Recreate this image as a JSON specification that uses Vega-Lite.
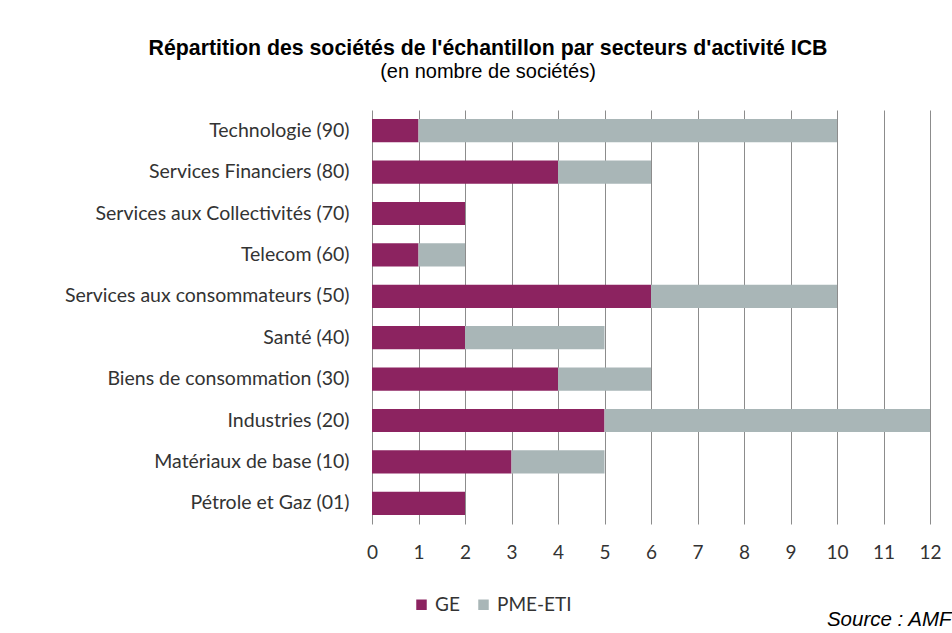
{
  "$schema": "https://vega.github.io/schema/vega-lite/v6.json",
  "width": 558,
  "height": 414,
  "autosize": {"type": "none"},
  "padding": {"left": 372, "top": 110, "right": 22, "bottom": 109},
  "background": "white",
  "config": {"view": {"stroke": null}},
  "title": {
    "text": "Répartition des sociétés de l'échantillon par secteurs d'activité ICB",
    "subtitle": "(en nombre de sociétés)",
    "anchor": "middle",
    "frame": "group",
    "dx": -163,
    "offset": 28,
    "font": "Liberation Sans",
    "fontSize": 21.3,
    "fontWeight": "bold",
    "color": "#000000",
    "subtitleFont": "Liberation Sans",
    "subtitleFontSize": 20,
    "subtitleColor": "#000000",
    "subtitlePadding": 3
  },
  "data": {
    "values": [
      {"secteur": "Technologie (90)", "type": "GE", "n": 1},
      {"secteur": "Technologie (90)", "type": "PME-ETI", "n": 9},
      {"secteur": "Services Financiers (80)", "type": "GE", "n": 4},
      {"secteur": "Services Financiers (80)", "type": "PME-ETI", "n": 2},
      {"secteur": "Services aux Collectivités (70)", "type": "GE", "n": 2},
      {"secteur": "Services aux Collectivités (70)", "type": "PME-ETI", "n": 0},
      {"secteur": "Telecom (60)", "type": "GE", "n": 1},
      {"secteur": "Telecom (60)", "type": "PME-ETI", "n": 1},
      {"secteur": "Services aux consommateurs (50)", "type": "GE", "n": 6},
      {"secteur": "Services aux consommateurs (50)", "type": "PME-ETI", "n": 4},
      {"secteur": "Santé (40)", "type": "GE", "n": 2},
      {"secteur": "Santé (40)", "type": "PME-ETI", "n": 3},
      {"secteur": "Biens de consommation (30)", "type": "GE", "n": 4},
      {"secteur": "Biens de consommation (30)", "type": "PME-ETI", "n": 2},
      {"secteur": "Industries (20)", "type": "GE", "n": 5},
      {"secteur": "Industries (20)", "type": "PME-ETI", "n": 7},
      {"secteur": "Matériaux de base (10)", "type": "GE", "n": 3},
      {"secteur": "Matériaux de base (10)", "type": "PME-ETI", "n": 2},
      {"secteur": "Pétrole et Gaz (01)", "type": "GE", "n": 2},
      {"secteur": "Pétrole et Gaz (01)", "type": "PME-ETI", "n": 0}
    ]
  },
  "mark": {"type": "bar"},
  "encoding": {
    "y": {
      "field": "secteur",
      "type": "nominal",
      "sort": null,
      "scale": {"paddingInner": 0.44, "paddingOuter": 0.22},
      "axis": {
        "title": null,
        "domain": false,
        "ticks": false,
        "labelPadding": 23,
        "labelFont": "Lato",
        "labelFontSize": 19.5,
        "labelColor": "#333333",
        "labelLimit": 400
      }
    },
    "x": {
      "field": "n",
      "type": "quantitative",
      "stack": "zero",
      "scale": {"domain": [0, 12], "nice": false},
      "axis": {
        "values": [0, 1, 2, 3, 4, 5, 6, 7, 8, 9, 10, 11, 12],
        "grid": true,
        "gridColor": "#8c8c8c",
        "gridWidth": 1,
        "domain": false,
        "ticks": false,
        "labelPadding": 19,
        "labelFont": "Lato",
        "labelFontSize": 19,
        "labelColor": "#333333",
        "labelFlush": false,
        "title": "Source : AMF",
        "titleFont": "Liberation Sans",
        "titleFontSize": 20.5,
        "titleFontStyle": "italic",
        "titleFontWeight": "normal",
        "titleColor": "#000000",
        "titleAnchor": null,
        "titleX": 579,
        "titleY": 101,
        "titleAlign": "right",
        "titleBaseline": "alphabetic"
      }
    },
    "color": {
      "field": "type",
      "type": "nominal",
      "scale": {"domain": ["GE", "PME-ETI"], "range": ["#8c2360", "#a9b6b7"]},
      "legend": {
        "title": null,
        "orient": "none",
        "legendX": 40,
        "legendY": 485,
        "direction": "horizontal",
        "symbolType": "square",
        "symbolSize": 110,
        "symbolStrokeWidth": 0,
        "labelFont": "Lato",
        "labelFontSize": 19,
        "labelColor": "#333333",
        "columnPadding": 14,
        "labelOffset": 4
      }
    },
    "order": {"field": "type", "sort": "ascending"}
  }
}
